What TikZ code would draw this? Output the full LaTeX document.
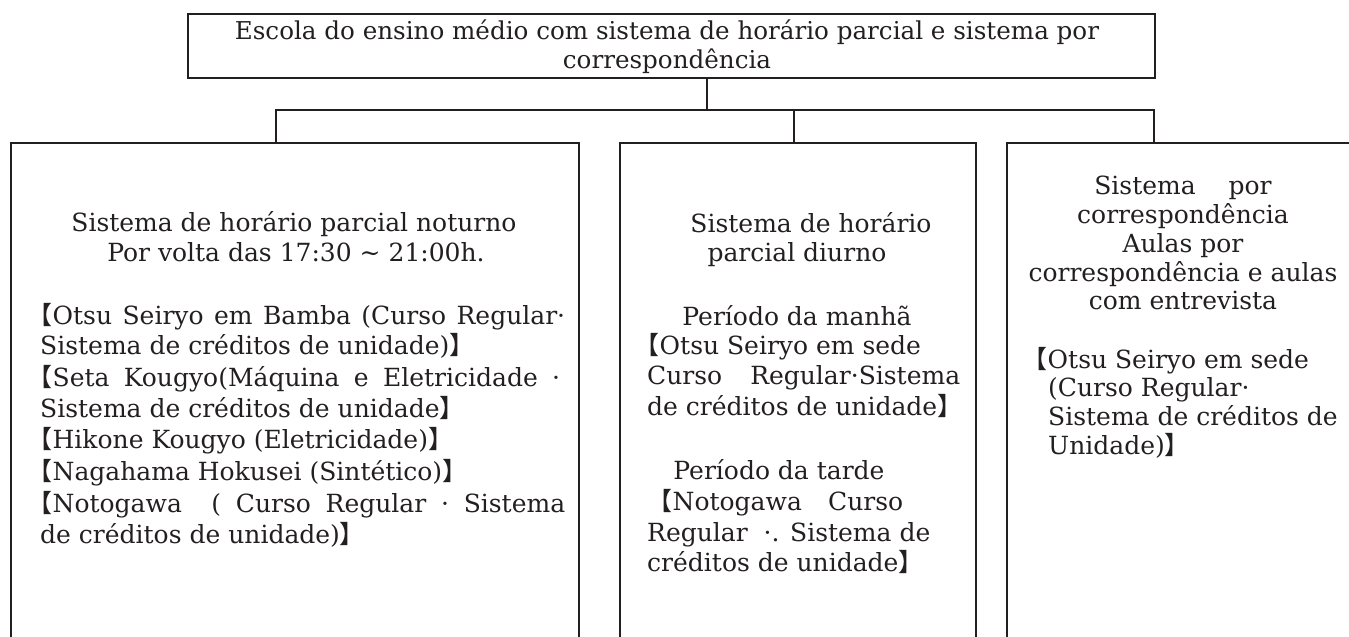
\documentclass[tikz,border=0pt]{standalone}
\usepackage{fontspec}
\setmainfont{DejaVu Serif}
\newfontfamily\cjk{Noto Sans CJK JP}
\definecolor{ink}{HTML}{231F20}
\newcommand{\lbk}{\kern-0.5em{\cjk 【}}
\newcommand{\rbk}{{\cjk 】}}
\newcommand{\dotm}{·}
\tikzset{
  ln/.style={draw=ink, line width=1.6pt},
  box/.style={draw=ink, line width=1.6pt, rectangle, inner sep=0pt, anchor=north west},
  tw/.style={inner sep=0pt, text=ink, font=\fontsize{25}{30}\selectfont, anchor=base west},
  tc/.style={inner sep=0pt, text=ink, font=\fontsize{25}{30}\selectfont, anchor=base},
  tt/.style={inner sep=0pt, text=ink, font=\fontsize{24.6}{30}\selectfont, anchor=base},
}
\begin{document}
\begin{tikzpicture}[x=1pt,y=-1pt]
\useasboundingbox (0,0) rectangle (1349,637);
% boxes
\node[box, minimum width=967pt, minimum height=64pt] (top) at (187,13) {};
\node[box, minimum width=568pt, minimum height=520pt] (lbox) at (10,142) {};
\node[box, minimum width=356pt, minimum height=520pt] (mbox) at (619,142) {};
\node[box, minimum width=380pt, minimum height=520pt] (rbox) at (1006,142) {};
% connectors
\coordinate (jc) at (707,110);
\coordinate (jl) at (276,110);
\coordinate (jm) at (794,110);
\coordinate (jr) at (1154,110);
\draw[ln] (top.south -| jc) -- (jc);
\draw[ln] (jl |- lbox.north) -- (jl) -- (jr) -- (jr |- rbox.north);
\draw[ln] (jm) -- (jm |- mbox.north);
% top text
\node[tt] (t1) at (667,39) {Escola do ensino médio com sistema de horário parcial e sistema por};
\node[tt] (t2) at (667,68) {correspondência};
% left box
\node[tc] (l1) at (294,231) {Sistema de horário parcial noturno};
\node[tc] (l2) at (296,261) {Por volta das 17:30 \textasciitilde\ 21:00h.};
\node[tw] (l3) at (40,324) {\makebox[525pt][s]{\lbk Otsu Seiryo em Bamba (Curso Regular\dotm}};
\node[tw] (l4) at (40,354) {Sistema de créditos de unidade)\rbk};
\node[tw] (l5) at (40,386) {\makebox[520pt][s]{\lbk Seta Kougyo(Máquina e Eletricidade \dotm}};
\node[tw] (l6) at (40,417) {Sistema de créditos de unidade\rbk};
\node[tw] (l7) at (40,448) {\lbk Hikone Kougyo (Eletricidade)\rbk};
\node[tw] (l8) at (40,480) {\lbk Nagahama Hokusei (Sintético)\rbk};
\node[tw] (l9) at (40,512) {\makebox[525pt][s]{\lbk Notogawa \ ( Curso Regular \dotm{} Sistema}};
\node[tw] (l10) at (40,543) {de créditos de unidade)\rbk};
% middle box
\node[tc] (m1) at (811,232) {Sistema de horário};
\node[tc] (m2) at (797,261) {parcial diurno};
\node[tc] (m3) at (797,325) {Período da manhã};
\node[tw] (m4) at (647,354) {\lbk Otsu Seiryo em sede};
\node[tw] (m5) at (647,384) {\makebox[313pt][s]{Curso \ Regular\dotm Sistema}};
\node[tw] (m6) at (647,415) {de créditos de unidade\rbk};
\node[tc] (m7) at (779,479) {Período da tarde};
\node[tw] (m8) at (660,510) {\makebox[243pt][s]{\lbk Notogawa \ \ Curso}};
\node[tw] (m9) at (647,541) {Regular \ \dotm. Sistema de};
\node[tw] (m10) at (647,571) {créditos de unidade\rbk};
% right box
\node[tc] (r1) at (1183,194) {Sistema \quad por};
\node[tc] (r2) at (1183,223) {correspondência};
\node[tc] (r3) at (1183,252) {Aulas por};
\node[tc] (r4) at (1183,281) {correspondência e aulas};
\node[tc] (r5) at (1183,309) {com entrevista};
\node[tw] (r6) at (1035,368) {\lbk Otsu Seiryo em sede};
\node[tw] (r7) at (1048,396) {(Curso Regular\dotm};
\node[tw] (r8) at (1048,425) {Sistema de créditos de};
\node[tw] (r9) at (1048,454) {Unidade)\rbk};
\end{tikzpicture}
\end{document}
